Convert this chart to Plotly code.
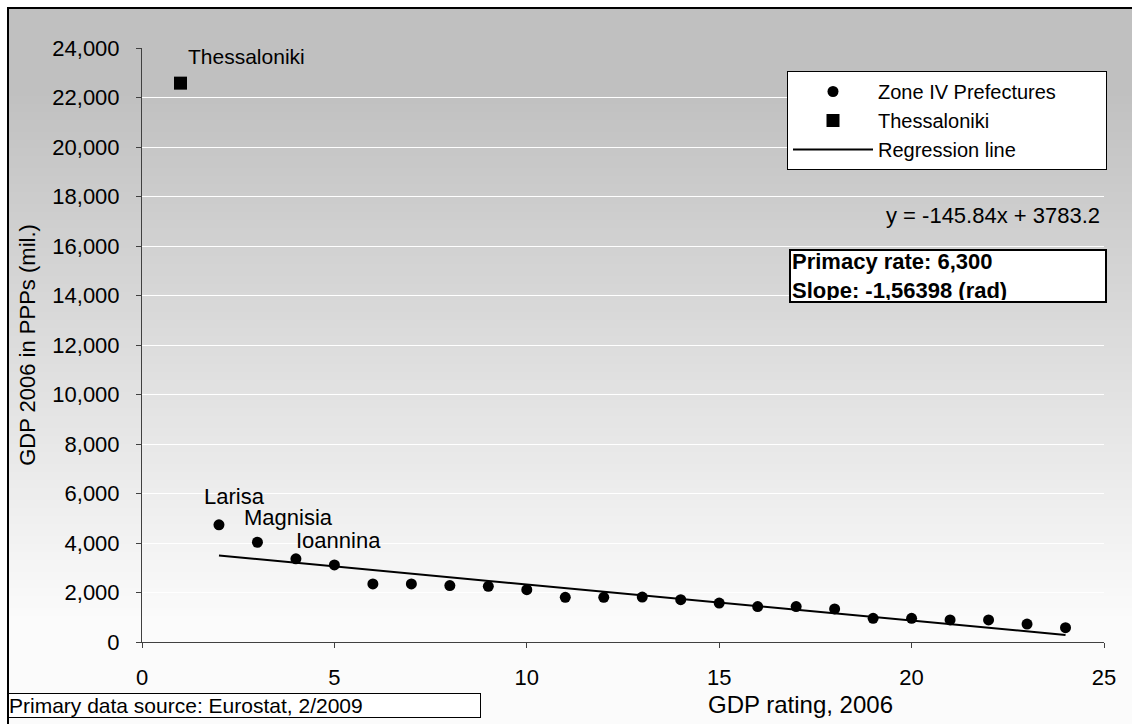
import plotly.graph_objects as go

# ---- data -------------------------------------------------------------
rating_zone = list(range(2, 25))
gdp_zone = [4735, 4030, 3360, 3115, 2345, 2345, 2280, 2250, 2115, 1805, 1805,
            1815, 1710, 1575, 1430, 1430, 1335, 955, 955, 890, 890, 725, 580]
zone_names = ["Larisa", "Magnisia", "Ioannina"]   # first three prefectures

rating_thess = [1]
gdp_thess = [22580]
thess_name = "Thessaloniki"

reg_slope = -145.84
reg_intercept = 3783.2
reg_x = [2, 24]

x_ticks = [0, 5, 10, 15, 20, 25]
y_ticks = list(range(0, 24001, 2000))

# ---- geometry helpers (pixel -> paper) --------------------------------
W, H = 1132, 724
ML, MR, MT, MB = 142, 28, 48, 82
PW, PH = W - ML - MR, H - MT - MB
FONT = "Liberation Sans, Arial, sans-serif"
NBSP = "\u00a0"


def px(x):
    return (x - ML) / PW


def py(y):
    return (H - MB - y) / PH


def grey(y):
    top, bottom = 90, 620
    t = min(max((y - top) / (bottom - top), 0), 1)
    g = round(192 + (251 - 192) * t)
    return f"rgb({g},{g},{g})"


fig = go.Figure()

fig.add_trace(go.Scatter(
    x=rating_zone, y=gdp_zone, mode="markers",
    name="Zone IV Prefectures" + NBSP * 8,
    marker=dict(symbol="circle", size=11, color="black"),
))
fig.add_trace(go.Scatter(
    x=rating_thess, y=gdp_thess, mode="markers", name=thess_name,
    marker=dict(symbol="square", size=13, color="black"),
))
reg_y = [reg_slope * x + reg_intercept for x in reg_x]
fig.add_trace(go.Scatter(
    x=reg_x, y=reg_y, mode="lines", name="Regression line",
    line=dict(color="black", width=2),
))

# ---- background gradient and frame ------------------------------------
shapes = []
for y0 in range(8, H, 4):
    shapes.append(dict(
        type="rect", xref="paper", yref="paper", layer="below",
        x0=px(8), x1=px(W + 10), y0=py(y0 + 5), y1=py(y0),
        fillcolor=grey(y0 + 2), line=dict(width=0),
    ))
shapes.append(dict(
    type="rect", xref="paper", yref="paper", layer="below",
    x0=px(8), x1=px(W + 10), y0=py(H + 10), y1=py(8),
    fillcolor="rgba(0,0,0,0)", line=dict(color="black", width=2),
))

# ---- text annotations -------------------------------------------------
annotations = []
label_shift = [(-17, 28), (-15, 25), (-2, 18)]
for name, x, y, (dx, dy) in zip(zone_names, rating_zone, gdp_zone, label_shift):
    annotations.append(dict(
        x=x, y=y, xref="x", yref="y", text=name, showarrow=False,
        xanchor="left", yanchor="middle", xshift=dx, yshift=dy,
        font=dict(size=22, color="black", family=FONT),
    ))
annotations.append(dict(
    x=rating_thess[0], y=gdp_thess[0], xref="x", yref="y", text=thess_name,
    showarrow=False, xanchor="left", yanchor="middle", xshift=6, yshift=27,
    font=dict(size=21, color="black", family=FONT),
))
annotations.append(dict(
    x=px(1102), y=py(215), xref="paper", yref="paper",
    text=f"y = {reg_slope}x + {reg_intercept}", showarrow=False,
    xanchor="right", yanchor="middle",
    font=dict(size=22, color="black", family=FONT),
))
annotations.append(dict(
    x=px(789), y=py(249), xref="paper", yref="paper",
    text="<b>Primacy rate: 6,300</b><br><b>Slope: -1,56398 (rad)</b>",
    showarrow=False, xanchor="left", yanchor="top", align="left",
    width=312, height=48, valign="middle",
    bgcolor="white", bordercolor="black", borderwidth=2, borderpad=1,
    font=dict(size=22, color="black", family=FONT),
))
annotations.append(dict(
    x=px(8), y=py(705), xref="paper", yref="paper",
    text="Primary data source: Eurostat, 2/2009",
    showarrow=False, xanchor="left", yanchor="middle", align="left",
    width=471, bgcolor="white", bordercolor="black", borderwidth=1, borderpad=0,
    font=dict(size=21, color="black", family=FONT),
))
annotations.append(dict(
    x=px(800), y=py(704), xref="paper", yref="paper",
    text="GDP rating, 2006", showarrow=False,
    xanchor="center", yanchor="middle",
    font=dict(size=24, color="black", family=FONT),
))

fig.update_layout(
    width=W, height=H,
    margin=dict(l=ML, r=MR, t=MT, b=MB, autoexpand=False),
    paper_bgcolor="white", plot_bgcolor="rgba(0,0,0,0)",
    font=dict(family=FONT, size=22, color="black"),
    showlegend=True,
    legend=dict(
        x=px(1107), xanchor="right", y=py(71), yanchor="top",
        bgcolor="white", bordercolor="black", borderwidth=1,
        font=dict(size=20, family=FONT, color="black"),
        itemwidth=80, tracegroupgap=0,
    ),
    xaxis=dict(
        range=[0, 25], tickvals=x_ticks, showgrid=False, zeroline=False,
        showline=True, linecolor="#404040", linewidth=1,
        ticks="outside", ticklen=5, tickcolor="#404040",
        ticklabelstandoff=11, tickfont=dict(size=22), automargin=False,
    ),
    yaxis=dict(
        range=[0, 24000], tickvals=y_ticks, tickformat=",",
        showgrid=True, gridcolor="white", gridwidth=1, zeroline=False,
        showline=True, linecolor="#404040", linewidth=1,
        ticks="outside", ticklen=5, tickcolor="#404040",
        ticklabelstandoff=12, tickfont=dict(size=22), automargin=False,
        title=dict(text="GDP 2006 in PPPs (mil.)", standoff=10,
                   font=dict(size=22)),
    ),
    shapes=shapes, annotations=annotations,
)

fig.write_html("out.html")
